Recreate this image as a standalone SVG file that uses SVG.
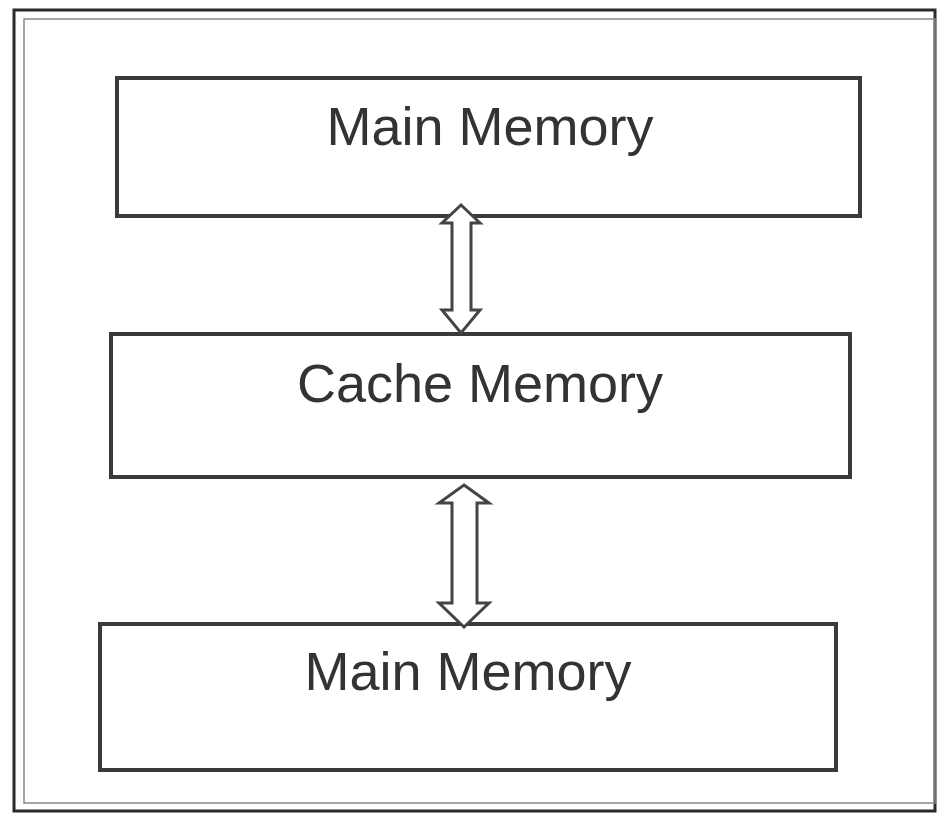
<svg xmlns="http://www.w3.org/2000/svg" width="938" height="818" viewBox="0 0 938 818">
<style>
.box{fill:#fff;stroke:#3a3a3a;stroke-width:4}
.lbl{font-family:"Liberation Sans",Arial,sans-serif;font-size:54px;fill:#333;text-anchor:middle}
.arr{fill:#fff;stroke:#444;stroke-width:3;stroke-linejoin:miter}
</style>
<rect width="938" height="818" fill="#fff"/>
<g id="frame">
<rect x="14" y="10" width="921" height="801" fill="none" stroke="#2a2a2a" stroke-width="3"/>
<rect x="24" y="19" width="911" height="784" fill="none" stroke="#888" stroke-width="1.5"/>
</g>
<g id="main-memory-top">
<rect class="box" x="117" y="78" width="743" height="138"/>
<text class="lbl" x="490" y="145">Main Memory</text>
</g>
<g id="cache-memory">
<rect class="box" x="111" y="334" width="739" height="143"/>
<text class="lbl" x="480" y="402">Cache Memory</text>
</g>
<g id="main-memory-bottom">
<rect class="box" x="100" y="624" width="736" height="146"/>
<text class="lbl" x="468" y="690">Main Memory</text>
</g>
<g id="connectors">
<path class="arr" d="M461,205 L480,223 L471,223 L471,310 L480,310 L461,333 L442,310 L452,310 L452,223 L442,223 Z"/>
<path class="arr" d="M464,485 L489,503 L477,503 L477,603 L489,603 L464,627 L439,603 L452,603 L452,503 L439,503 Z"/>
</g>
</svg>
